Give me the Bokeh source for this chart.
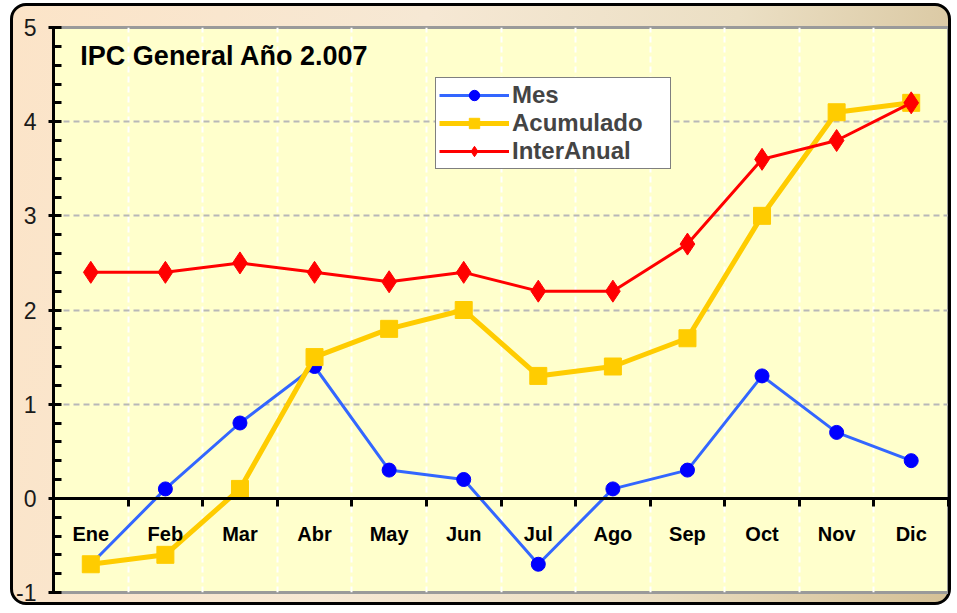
from bokeh.plotting import figure
from bokeh.models import Range1d, FixedTicker, SingleIntervalTicker, Label, ColumnDataSource
from bokeh.core.properties import value
from bokeh.embed import file_html
from bokeh.resources import INLINE

months = ["Ene", "Feb", "Mar", "Abr", "May", "Jun", "Jul", "Ago", "Sep", "Oct", "Nov", "Dic"]
mes = [-0.7, 0.1, 0.8, 1.4, 0.3, 0.2, -0.7, 0.1, 0.3, 1.3, 0.7, 0.4]
acumulado = [-0.7, -0.6, 0.1, 1.5, 1.8, 2.0, 1.3, 1.4, 1.7, 3.0, 4.1, 4.2]
interanual = [2.4, 2.4, 2.5, 2.4, 2.3, 2.4, 2.2, 2.2, 2.7, 3.6, 3.8, 4.2]
y_ticks = [-1, 0, 1, 2, 3, 4, 5]
y_tick_labels = ["-1", "0", "1", "2", "3", "4", "5"]
title_text = "IPC General Año 2.007"

xs = list(range(len(months)))
bounds = [i + 0.5 for i in xs]

p = figure(width=941, height=602, output_backend="svg", toolbar_location=None,
           x_range=Range1d(-0.5, len(months) - 0.5), y_range=Range1d(-1, 5),
           min_border_left=40, min_border_right=6, min_border_top=21, min_border_bottom=16)

p.styles = {"background": "linear-gradient(100deg, #fce4c8 0%, #f6e8d4 40%, #ebdfc4 70%, #d4c096 100%)",
            "border": "3px solid black", "border-radius": "16px",
            "margin-left": "10px", "margin-top": "3px"}
p.border_fill_color = None
p.background_fill_color = "#FFFFCC"
p.outline_line_color = "#9a9a9a"
p.outline_line_width = 3

# x axis drawn at y = 0
p.xaxis.fixed_location = 0
p.xaxis.ticker = FixedTicker(ticks=bounds)
p.xaxis.axis_line_color = "black"
p.xaxis.axis_line_width = 3
p.xaxis.major_tick_line_color = "black"
p.xaxis.major_tick_line_width = 3
p.xaxis.major_tick_in = 0
p.xaxis.major_tick_out = 8
p.xaxis.minor_tick_line_color = None
p.xaxis.major_label_text_font_size = "0px"
p.xaxis.major_label_standoff = 0

# y axis
p.yaxis.ticker = SingleIntervalTicker(interval=1, num_minor_ticks=5)
p.yaxis.major_label_overrides = dict(zip(y_ticks, y_tick_labels))
p.yaxis.axis_line_color = "black"
p.yaxis.axis_line_width = 3
p.yaxis.major_tick_line_color = "black"
p.yaxis.major_tick_line_width = 3
p.yaxis.major_tick_in = 3
p.yaxis.major_tick_out = 5
p.yaxis.minor_tick_line_color = "black"
p.yaxis.minor_tick_line_width = 3
p.yaxis.minor_tick_in = 8
p.yaxis.minor_tick_out = 0
p.yaxis.major_label_text_font = "Liberation Sans"
p.yaxis.major_label_text_font_size = "23px"
p.yaxis.major_label_text_color = "#1a1a1a"
p.yaxis.major_label_standoff = 12

p.xgrid.grid_line_color = "white"
p.xgrid.grid_line_width = 2
p.xgrid.grid_line_dash = "6 4"
p.ygrid.grid_line_color = "#b8b8b8"
p.ygrid.grid_line_width = 2
p.ygrid.grid_line_dash = "6 4"

src = ColumnDataSource(dict(x=xs, month=months, zero=[0] * len(xs),
                            mes=mes, acum=acumulado, inter=interanual))

p.line("x", "mes", source=src, line_color="#3366FF", line_width=3, legend_label="Mes")
p.scatter("x", "mes", source=src, marker="circle", size=14, fill_color="#0000FF",
          line_color="#0000FF", legend_label="Mes")
p.line("x", "acum", source=src, line_color="#FFCC00", line_width=5, legend_label="Acumulado")
p.scatter("x", "acum", source=src, marker="square", size=17, fill_color="#FFCC00",
          line_color="#FFCC00", legend_label="Acumulado")
p.line("x", "inter", source=src, line_color="#FF0000", line_width=3, legend_label="InterAnual")
p.scatter("x", "inter", source=src, marker="diamond", size=22, fill_color="#FF0000",
          line_color="#FF0000", legend_label="InterAnual")

p.text("x", "zero", text="month", source=src, y_offset=36, text_align="center",
       text_baseline="middle", text_font=value("Liberation Sans"), text_font_style="bold",
       text_font_size="20px", text_color="black")

p.add_layout(Label(x=-0.14, y=4.7, text=title_text, text_baseline="middle",
                   text_font="Liberation Sans", text_font_style="bold",
                   text_font_size="27px", text_color="black"))

lg = p.legend[0]
lg.location = (382, 423)
lg.background_fill_color = "white"
lg.background_fill_alpha = 1
lg.border_line_color = "black"
lg.border_line_width = 1.5
lg.label_text_font = "Liberation Sans"
lg.label_text_font_style = "bold"
lg.label_text_font_size = "24px"
lg.label_standoff = 3
lg.glyph_width = 70
lg.glyph_height = 26
lg.label_height = 26
lg.label_width = 155
lg.spacing = 0
lg.padding = 3
lg.margin = 0

open("out.html", "w").write(file_html(p, INLINE))
